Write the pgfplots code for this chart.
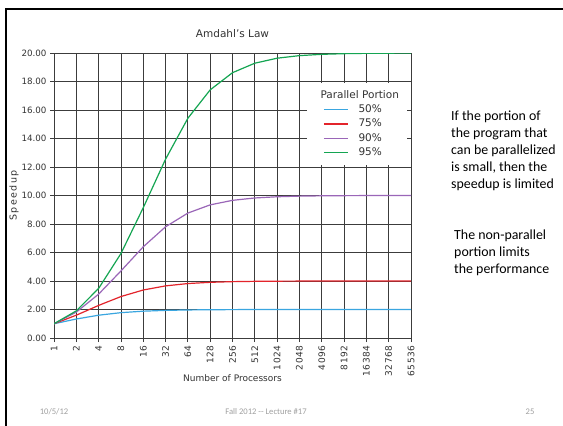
\documentclass[border=0pt]{standalone}
\usepackage{pgfplots}
\pgfplotsset{compat=1.18}
\usepackage{fontspec}
\setmainfont{DejaVu Sans}
\newfontfamily\slidefont{Carlito}
\newfontfamily\spacedfont[LetterSpace=7]{DejaVu Sans}
\newfontfamily\widefont[LetterSpace=14]{DejaVu Sans}
\definecolor{gridc}{HTML}{3C3C3C}
\definecolor{cA}{HTML}{3AA6E0}
\definecolor{cB}{HTML}{E3242B}
\definecolor{cC}{HTML}{9A66B8}
\definecolor{cD}{HTML}{14A552}
\definecolor{foot}{HTML}{A0A0A0}
\definecolor{txt}{HTML}{333333}
\begin{document}
\begin{tikzpicture}[x=1pt,y=1pt]
\useasboundingbox (0,0) rectangle (563,426);
\fill[white] (0,0) rectangle (563,426);
\draw[line width=2.3pt] (6,0) -- (6,417) -- (564,417);
\begin{axis}[
  at={(54pt,88pt)}, anchor=south west,
  scale only axis, width=357pt, height=285pt,
  xmin=0, xmax=16, ymin=0, ymax=20,
  xtick={0,...,16},
  xticklabels={1,2,4,8,16,32,64,128,256,512,1024,2048,4096,8192,16384,32768,65536},
  ytick={0,2,...,20},
  grid=major,
  grid style={color=gridc, line width=0.8pt},
  axis line style={color=gridc, line width=0.8pt},
  tick style={color=gridc, line width=0.8pt},
  tick align=outside, tick pos=left, major tick length=4pt,
  yticklabel style={font=\fontsize{8.7}{10}\selectfont, color=txt, /pgf/number format/.cd, fixed, fixed zerofill, precision=2, assume math mode=true},
  xticklabel style={font=\spacedfont\fontsize{9}{10}\selectfont, color=txt, rotate=90, anchor=east},
  /pgf/number format/assume math mode=true,
  title={Amdahl’s Law},
  title style={font=\fontsize{10.5}{12}\selectfont, color=txt, at={(axis description cs:0.5,1)}, anchor=base, yshift=9pt},
  xlabel={Number of Processors},
  xlabel style={font=\fontsize{9}{11}\selectfont, color=txt, at={(axis description cs:0.5,-0.140)}, anchor=center},
  ylabel={Speedup},
  ylabel style={font=\widefont\fontsize{9.5}{11}\selectfont, color=txt, at={(axis description cs:-0.112,0.5)}, anchor=center, rotate=0},
  legend cell align=left,
  legend image code/.code={\path (0pt,0pt); \draw[#1] (8pt,0pt) -- (32pt,0pt);},
  legend style={at={(axis description cs:0.709,0.895)}, anchor=north west, draw=none, fill=white,
    font=\fontsize{10.5}{12}\selectfont, inner xsep=8pt, inner ysep=7pt,
    nodes={inner sep=0pt, text height=8pt, text depth=2.5pt}, row sep=3.8pt, column sep=10pt},
]
\addlegendimage{empty legend}
\addlegendentry{\hspace{-38pt}\textcolor{txt}{Parallel Portion}}
\addplot[color=cA, line width=1.2pt] coordinates {(0,1) (1,1.333) (2,1.6) (3,1.778) (4,1.882) (5,1.939) (6,1.969) (7,1.984) (8,1.992) (9,1.996) (10,1.998) (11,1.999) (12,2.0) (13,2.0) (14,2.0) (15,2.0) (16,2.0)};
\addlegendentry{\textcolor{txt}{50\%}}
\addplot[color=cB, line width=1.2pt] coordinates {(0,1) (1,1.6) (2,2.286) (3,2.909) (4,3.368) (5,3.657) (6,3.821) (7,3.908) (8,3.954) (9,3.977) (10,3.988) (11,3.994) (12,3.997) (13,3.999) (14,3.999) (15,4.0) (16,4.0)};
\addlegendentry{\textcolor{txt}{75\%}}
\addplot[color=cC, line width=1.2pt] coordinates {(0,1) (1,1.818) (2,3.077) (3,4.706) (4,6.4) (5,7.805) (6,8.767) (7,9.343) (8,9.660) (9,9.827) (10,9.912) (11,9.956) (12,9.978) (13,9.989) (14,9.995) (15,9.997) (16,9.999)};
\addlegendentry{\textcolor{txt}{90\%}}
\addplot[color=cD, line width=1.2pt] coordinates {(0,1) (1,1.905) (2,3.478) (3,5.926) (4,9.143) (5,12.549) (6,15.422) (7,17.414) (8,18.618) (9,19.284) (10,19.635) (11,19.816) (12,19.907) (13,19.953) (14,19.977) (15,19.988) (16,19.994)};
\addlegendentry{\textcolor{txt}{95\%}}
\end{axis}
\begin{scope}[every node/.style={anchor=base west, inner sep=0pt, font=\slidefont\fontsize{13.9}{17}\selectfont, text=black}]
\node at (451,305.3) {If the portion of};
\node at (451,288.2) {the program that};
\node at (451,271.3) {can be parallelized};
\node at (451,254.5) {is small, then the};
\node at (451,237.7) {speedup is limited};
\node at (454,186.3) {The non-parallel};
\node at (454,169.2) {portion limits};
\node at (454,152.2) {the performance};
\end{scope}
\begin{scope}[every node/.style={anchor=base, inner sep=0pt, font=\slidefont\fontsize{8.6}{10}\selectfont, text=foot}]
\node at (54,11.8) {10/5/12};
\node at (266,11.8) {Fall 2012 -{}- Lecture \#17};
\node at (530,11.8) {25};
\end{scope}
\end{tikzpicture}
\end{document}
